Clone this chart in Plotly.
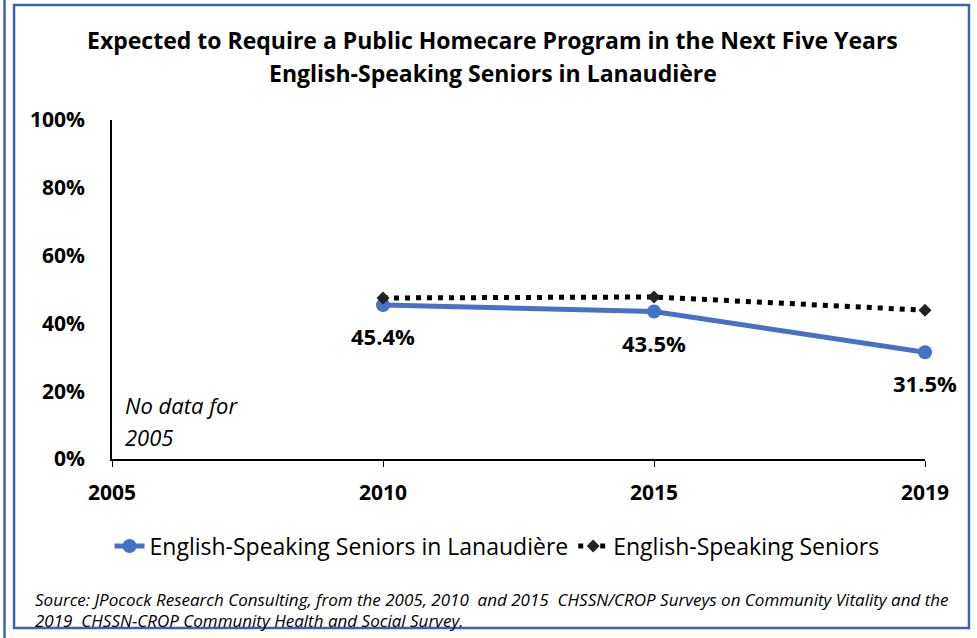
import plotly.graph_objects as go

years = ["2005", "2010", "2015", "2019"]
lanaudiere = [None, 45.4, 43.5, 31.5]
all_seniors = [None, 47.5, 47.8, 43.9]
y_ticks = [0, 20, 40, 60, 80, 100]
y_tick_labels = ["0%", "20%", "40%", "60%", "80%", "100%"]

title_lines = ["Expected to Require a Public Homecare Program in the Next Five Years",
               "English-Speaking Seniors in Lanaudière"]
name_a = "English-Speaking Seniors in Lanaudière"
name_b = "English-Speaking Seniors"
source_lines = ["Source: JPocock Research Consulting, from the 2005, 2010  and 2015  CHSSN/CROP Surveys on Community Vitality and the",
                "2019  CHSSN-CROP Community Health and Social Survey."]
no_data_lines = ["No data for", "2005"]

FONT = "Open Sans"
BLUE = "#4472C4"
FRAME = "#3F62A8"

fig = go.Figure()
fig.add_trace(go.Scatter(
    x=years, y=lanaudiere, name=name_a, mode="lines+markers",
    line=dict(color=BLUE, width=5),
    marker=dict(color=BLUE, size=14, symbol="circle"),
    cliponaxis=False,
))
fig.add_trace(go.Scatter(
    x=years, y=all_seniors, name=name_b, mode="lines+markers",
    line=dict(color="black", width=5, dash="5px,6px"),
    marker=dict(color="#222222", size=10, symbol="diamond"),
    cliponaxis=False,
))

# data labels
for i, v in enumerate(lanaudiere):
    if v is None:
        continue
    fig.add_annotation(x=i, y=v, text=f"<b>{v:.1f}%</b>", showarrow=False,
                       yshift=-31, font=dict(family=FONT, size=22, color="black"))

for k, line in enumerate(no_data_lines):
    fig.add_annotation(x=0, y=0, text=f"<i>{line}</i>", showarrow=False,
                       xanchor="left", yanchor="middle", xshift=11, yshift=54 - 32 * k,
                       font=dict(family=FONT, size=22, color="black"))

for k, line in enumerate(title_lines):
    fig.add_annotation(xref="paper", yref="paper", x=0.5, xshift=-26, y=1, yshift=80 - 33 * k,
                       text=f"<b>{line}</b>", showarrow=False,
                       xanchor="center", yanchor="middle",
                       font=dict(family=FONT, size=23, color="black"))

for k, line in enumerate(source_lines):
    fig.add_annotation(xref="paper", yref="paper", x=0, xshift=-79, y=0, yshift=-140 - 21 * k,
                       text=f"<i>{line}</i>", showarrow=False, xanchor="left", yanchor="middle",
                       font=dict(family=FONT, size=17, color="black"))

# frame
fig.add_shape(type="rect", xref="paper", yref="paper",
              x0=-0.1205, x1=1.0541, y0=-0.4985, y1=1.339, line=dict(color=FRAME, width=2.5))
fig.add_shape(type="line", xref="paper", yref="paper",
              x0=-0.1322, x1=-0.1322, y0=-0.56, y1=1.40, line=dict(color=FRAME, width=2.5))

fig.update_layout(
    width=977, height=638,
    margin=dict(l=112, r=52, t=120, b=179),
    paper_bgcolor="white", plot_bgcolor="white",
    showlegend=True,
    legend=dict(orientation="h", x=0.4736, xanchor="center", y=-0.257, yanchor="middle",
                font=dict(family=FONT, size=23, color="black"),
                traceorder="normal"),
    font=dict(family=FONT, color="black"),
)
fig.update_xaxes(type="category", range=[0, 3], showline=True, linecolor="black", linewidth=1.5,
                 ticks="outside", ticklen=6, tickcolor="black", showgrid=False, zeroline=False,
                 tickfont=dict(family=FONT, size=21, color="black", weight="bold"),
                 ticklabelstandoff=8)
fig.update_yaxes(range=[0, 100], tickvals=y_ticks, ticktext=y_tick_labels, showline=True,
                 linecolor="black", linewidth=1.5, showgrid=False, zeroline=False, ticks="",
                 tickfont=dict(family=FONT, size=21, color="black", weight="bold"),
                 ticklabelstandoff=21)

fig.write_html("out.html", config={"displayModeBar": False},
               post_script=("document.documentElement.style.overflow='hidden';"
                            "document.body.style.overflow='hidden';"
                            "document.body.style.margin='0';"))
